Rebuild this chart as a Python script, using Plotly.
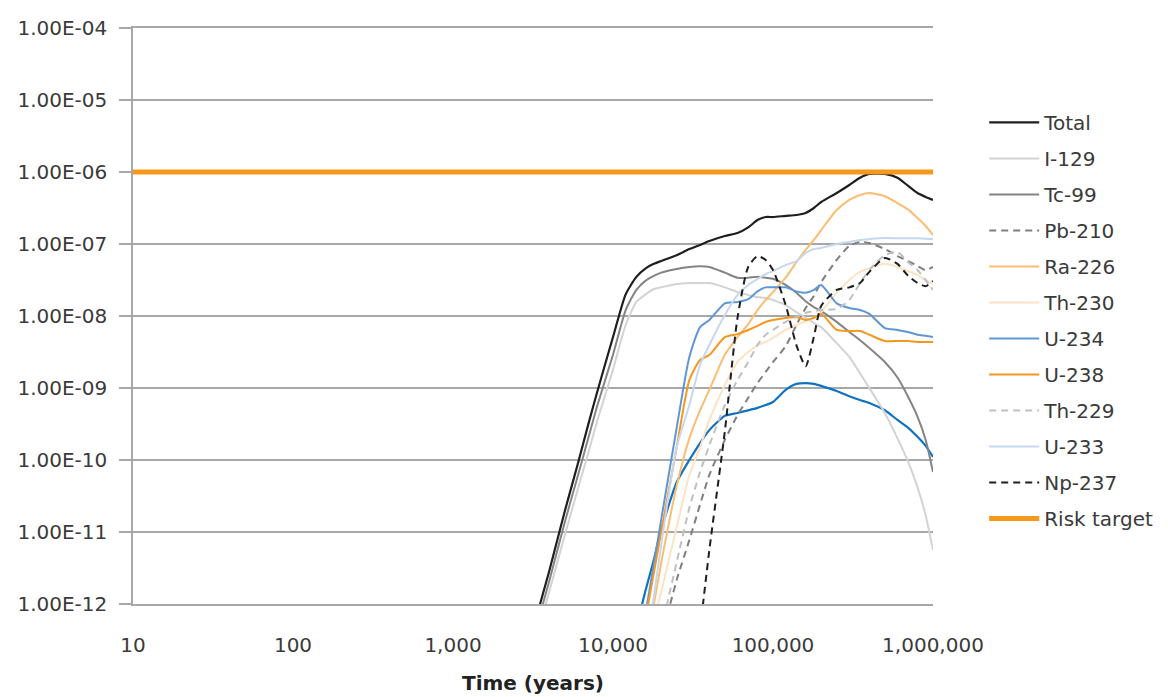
import plotly.graph_objects as go

# ---- data ----
TIME_YEARS = [3000, 4000, 5000, 6000, 7000, 8000, 10000, 12000, 14000, 16000,
              18000, 20000, 25000, 30000, 35000, 40000, 50000, 60000, 70000, 80000,
              90000, 100000, 120000, 140000, 160000, 180000, 200000, 250000, 300000, 350000,
              400000, 500000, 600000, 700000, 800000, 900000, 1000000]

TOTAL = [2.9e-13, 2.9e-12, 1.96e-11, 8.5e-11, 3.1e-10, 9.1e-10, 5.1e-9, 2.0e-8, 3.5e-8, 4.6e-8,
         5.3e-8, 5.8e-8, 7.0e-8, 8.5e-8, 9.7e-8, 1.10e-7, 1.29e-7, 1.42e-7, 1.7e-7, 2.15e-7,
         2.37e-7, 2.37e-7, 2.46e-7, 2.53e-7, 2.7e-7, 3.16e-7, 3.83e-7, 5.1e-7, 6.6e-7, 8.3e-7,
         9.4e-7, 9.4e-7, 8.3e-7, 6.4e-7, 5.1e-7, 4.5e-7, 4.1e-7]

I_129 = [1.5e-13, 1.5e-12, 9.1e-12, 3.8e-11, 1.25e-10, 3.6e-10, 1.8e-9, 7.5e-9, 1.57e-8, 2.0e-8,
         2.37e-8, 2.5e-8, 2.78e-8, 2.87e-8, 2.87e-8, 2.87e-8, 2.5e-8, 2.15e-8, 1.96e-8, 1.83e-8,
         1.78e-8, 1.67e-8, 1.42e-8, 1.13e-8, 9.5e-9, 8.0e-9, 7.0e-9, 4.2e-9, 2.7e-9, 1.6e-9,
         1.0e-9, 4.5e-10, 2.0e-10, 9.4e-11, 4.2e-11, 1.7e-11, 5.6e-12]

TC_99 = [2.1e-13, 2.1e-12, 1.38e-11, 5.8e-11, 2.0e-10, 5.8e-10, 2.9e-9, 1.21e-8, 2.3e-8, 3.1e-8,
         3.6e-8, 4.0e-8, 4.5e-8, 4.8e-8, 4.9e-8, 4.8e-8, 4.0e-8, 3.4e-8, 3.4e-8, 3.5e-8,
         3.4e-8, 3.3e-8, 2.7e-8, 2.1e-8, 1.6e-8, 1.33e-8, 1.17e-8, 8.3e-9, 6.0e-9, 4.6e-9,
         3.6e-9, 2.3e-9, 1.4e-9, 7.5e-10, 4.0e-10, 1.9e-10, 6.8e-11]

PB_210 = [None, None, None, None, None, None, None, None, None, None,
          None, 3.3e-13, 2.15e-12, 7.7e-12, 2.4e-11, 6.2e-11, 1.9e-10, 4.2e-10, 7.3e-10, 1.17e-9,
          1.67e-9, 2.3e-9, 3.8e-9, 7.5e-9, 1.29e-8, 1.9e-8, 2.96e-8, 6.0e-8, 9.4e-8, 1.07e-7,
          1.03e-7, 8.5e-8, 6.8e-8, 5.8e-8, 4.95e-8, 4.35e-8, 4.8e-8]

RA_226 = [None, None, None, None, None, None, None, None, None, 3.0e-13,
          1.0e-12, 3.7e-12, 4.35e-11, 2.0e-10, 4.9e-10, 9.4e-10, 2.9e-9, 5.1e-9, 7.7e-9, 1.21e-8,
          1.67e-8, 2.15e-8, 3.4e-8, 5.6e-8, 8.3e-8, 1.14e-7, 1.56e-7, 2.96e-7, 4.1e-7, 4.8e-7,
          5.1e-7, 4.6e-7, 3.7e-7, 3.0e-7, 2.3e-7, 1.78e-7, 1.33e-7]

TH_230 = [None, None, None, None, None, None, None, None, None, None,
          5.8e-13, 1.47e-12, 1.17e-11, 6.2e-11, 1.5e-10, 3.6e-10, 1.1e-9, 2.3e-9, 3.16e-9, 3.95e-9,
          4.35e-9, 4.95e-9, 6.4e-9, 7.5e-9, 8.5e-9, 9.4e-9, 1.13e-8, 2.1e-8, 3.16e-8, 4.1e-8,
          4.6e-8, 5.3e-8, 4.8e-8, 4.2e-8, 3.7e-8, 3.16e-8, 2.8e-8]

U_234 = [None, None, None, None, None, None, None, None, None, 7.5e-13,
         3.6e-12, 1.47e-11, 2.8e-10, 2.7e-9, 7.0e-9, 8.8e-9, 1.5e-8, 1.57e-8, 1.72e-8, 2.2e-8,
         2.5e-8, 2.5e-8, 2.5e-8, 2.2e-8, 2.1e-8, 2.3e-8, 2.7e-8, 1.5e-8, 1.29e-8, 1.21e-8,
         1.07e-8, 6.8e-9, 6.4e-9, 6.0e-9, 5.5e-9, 5.3e-9, 5.1e-9]

U_238 = [None, None, None, None, None, None, None, None, None, 6.4e-13,
         2.7e-12, 1.0e-11, 1.5e-10, 1.29e-9, 2.45e-9, 2.87e-9, 5.1e-9, 5.6e-9, 6.4e-9, 7.3e-9,
         8.3e-9, 8.8e-9, 9.4e-9, 9.7e-9, 8.8e-9, 9.4e-9, 1.07e-8, 6.4e-9, 6.2e-9, 6.2e-9,
         5.5e-9, 4.5e-9, 4.5e-9, 4.5e-9, 4.35e-9, 4.35e-9, 4.35e-9]

TH_229 = [None, None, None, None, None, None, None, None, None, None,
          None, 4.4e-13, 3.8e-12, 2.15e-11, 6.8e-11, 1.6e-10, 5.8e-10, 1.29e-9, 2.3e-9, 3.95e-9,
          5.5e-9, 6.4e-9, 8.3e-9, 9.7e-9, 1.1e-8, 1.17e-8, 1.21e-8, 1.25e-8, 1.67e-8, 2.87e-8,
          4.35e-8, 7.0e-8, 7.7e-8, 5.6e-8, 4.35e-8, 3.16e-8, 2.3e-8]

U_233 = [None, None, None, None, None, None, None, None, None, 2.6e-13,
         1.25e-12, 6.6e-12, 1.5e-10, 5.8e-10, 2.1e-9, 3.95e-9, 1.03e-8, 1.96e-8, 2.7e-8, 3.26e-8,
         3.83e-8, 4.2e-8, 5.1e-8, 5.8e-8, 7.5e-8, 8.5e-8, 8.8e-8, 1.0e-7, 1.07e-7, 1.14e-7,
         1.17e-7, 1.21e-7, 1.2e-7, 1.2e-7, 1.2e-7, 1.18e-7, 1.17e-7]

NP_237 = [None, None, None, None, None, None, None, None, None, None,
          None, None, None, None, 4.4e-13, 5.6e-12, 2.5e-10, 9.4e-9, 4.8e-8, 6.8e-8,
          6.0e-8, 4.35e-8, 1.42e-8, 3.95e-9, 2.0e-9, 5.1e-9, 1.38e-8, 2.3e-8, 2.5e-8, 2.87e-8,
          4.1e-8, 6.4e-8, 5.3e-8, 3.6e-8, 2.87e-8, 2.6e-8, 3.06e-8]

# unlabelled (dark blue) curve present in the plot but not in the legend
UNLABELLED = [None, None, None, None, None, None, None, None, 4.8e-13, 1.57e-12,
              4.1e-12, 1.07e-11, 4.9e-11, 1.0e-10, 1.72e-10, 2.6e-10, 4.1e-10, 4.5e-10, 4.9e-10, 5.3e-10,
              5.8e-10, 6.4e-10, 9.4e-10, 1.14e-9, 1.17e-9, 1.14e-9, 1.07e-9, 9.1e-10, 7.7e-10, 6.8e-10,
              6.2e-10, 4.9e-10, 3.6e-10, 2.8e-10, 2.1e-10, 1.57e-10, 1.1e-10]

RISK_TIME = [10, 1000000]
RISK_VALUE = [1e-6, 1e-6]

X_TICKS = [10, 100, 1000, 10000, 100000, 1000000]
X_TICK_LABELS = ["10", "100", "1,000", "10,000", "100,000", "1,000,000"]
Y_TICKS = [1e-4, 1e-5, 1e-6, 1e-7, 1e-8, 1e-9, 1e-10, 1e-11, 1e-12]
Y_TICK_LABELS = ["1.00E-04", "1.00E-05", "1.00E-06", "1.00E-07", "1.00E-08",
                 "1.00E-09", "1.00E-10", "1.00E-11", "1.00E-12"]

# ---- figure ----
series = [
    ("Total", TOTAL, "#1e1e1e", None, 2.2),
    ("I-129", I_129, "#d3d3d3", None, 2.0),
    ("Tc-99", TC_99, "#848484", None, 2.0),
    ("Pb-210", PB_210, "#7f7f7f", "7px,5px", 2.0),
    ("Ra-226", RA_226, "#fbbd72", None, 2.0),
    ("Th-230", TH_230, "#fde2c4", None, 2.0),
    ("U-234", U_234, "#5f97d6", None, 2.0),
    ("U-238", U_238, "#f5961e", None, 2.0),
    ("Th-229", TH_229, "#c0c0c0", "7px,5px", 2.0),
    ("U-233", U_233, "#c6d7ef", None, 2.0),
    ("Np-237", NP_237, "#1e1e1e", "7px,5px", 2.0),
]

fig = go.Figure()

fig.add_trace(go.Scatter(
    x=TIME_YEARS, y=UNLABELLED, mode="lines", name="(unlabelled)",
    showlegend=False, line=dict(color="#1272c2", width=2.2, shape="spline", smoothing=0.6),
    hoverinfo="skip"))

for rank, (name, vals, color, dash, width) in enumerate(series):
    fig.add_trace(go.Scatter(
        x=TIME_YEARS, y=vals, mode="lines", name=name, legendgroup=name,
        legendrank=rank + 1,
        line=dict(color=color, width=width, dash=dash, shape="spline", smoothing=0.6)))

fig.add_trace(go.Scatter(
    x=RISK_TIME, y=RISK_VALUE, mode="lines", name="Risk target", legendgroup="risk",
    legendrank=50, line=dict(color="#f5981c", width=5)))

grid = "#a8a8a8"
fig.update_layout(
    width=1168, height=697,
    margin=dict(l=133, r=235, t=28, b=93, autoexpand=False),
    plot_bgcolor="white", paper_bgcolor="white",
    font=dict(family="DejaVu Sans", size=20, color="#3a3a3a"),
    showlegend=True,
    legend=dict(x=1.064, y=0.87, xanchor="left", yanchor="top",
                tracegroupgap=7, bgcolor="rgba(0,0,0,0)",
                font=dict(family="DejaVu Sans", size=20, color="#3a3a3a"),
                itemwidth=50),
    xaxis=dict(type="log", range=[1, 6], tickvals=X_TICKS, ticktext=X_TICK_LABELS,
               automargin=False,
               showgrid=False, zeroline=False, showline=True, mirror=True,
               linecolor=grid, linewidth=1.5, ticks="", ticklabelstandoff=22,
               title=dict(text="<b>Time (years)</b>", standoff=20,
                          font=dict(family="DejaVu Sans", size=20, color="#222222"))),
    yaxis=dict(type="log", range=[-12, -4], tickvals=Y_TICKS, ticktext=Y_TICK_LABELS,
               automargin=False,
               showgrid=True, gridcolor=grid, gridwidth=1.5, zeroline=False,
               showline=True, linecolor=grid, linewidth=1.5,
               ticks="outside", ticklen=12, tickcolor=grid, tickwidth=1.5,
               ticklabelstandoff=8),
)

fig.write_html("out.html")
